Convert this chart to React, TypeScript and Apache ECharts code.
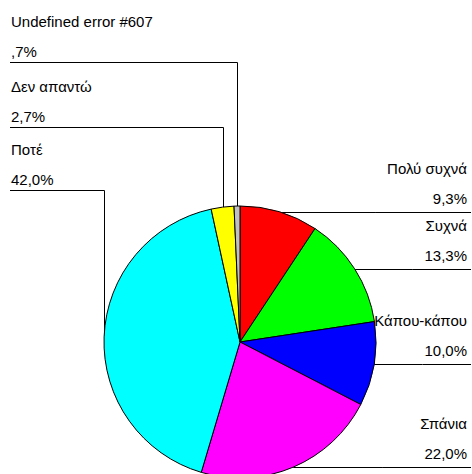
import React, { useEffect, useRef } from "react";
import * as echarts from "echarts";

const categories = [
  "Πολύ συχνά",
  "Συχνά",
  "Κάπου-κάπου",
  "Σπάνια",
  "Ποτέ",
  "Δεν απαντώ",
  "Undefined error #607",
];
const values = [9.3, 13.3, 10.0, 22.0, 42.0, 2.7, 0.7];
const colors = ["#ff0000", "#00ff00", "#0000ff", "#ff00ff", "#00ffff", "#ffff00", "#c0c0c0"];

// layout constants
const CX = 240;
const CY = 342;
const R = 136;
const leftLineY: Record<number, number> = { 4: 190.5, 5: 127.5, 6: 62.5 };

function fmt(v: number): string {
  let s = v.toFixed(1).replace(".", ",");
  if (s.startsWith("0,")) s = s.slice(1);
  return s + "%";
}

const total = values.reduce((a, b) => a + b, 0);
function edge(i: number): [number, number] {
  let cum = 0;
  for (let k = 0; k < i; k++) cum += values[k];
  const mid = cum + values[i] / 2;
  const theta = ((90 - (360 * mid) / total) * Math.PI) / 180;
  return [CX + R * Math.cos(theta), CY - R * Math.sin(theta)];
}

export default function App() {
  const ref = useRef<HTMLDivElement>(null);
  useEffect(() => {
    if (!ref.current) return;
    const chart = echarts.init(ref.current, null, { renderer: "svg" });
    chart.setOption({
      animation: false,
      backgroundColor: "#ffffff",
      series: [
        {
          type: "pie",
          center: [CX, CY],
          radius: R,
          startAngle: 90,
          clockwise: true,
          avoidLabelOverlap: false,
          silent: true,
          data: categories.map((name, i) => ({
            name,
            value: values[i],
            itemStyle: { color: colors[i] },
          })),
          itemStyle: { borderColor: "#000000", borderWidth: 1 },
          label: {
            show: true,
            position: "outside",
            formatter: (p: any) => `${p.name}\n${fmt(p.value)}`,
            color: "#000000",
            fontFamily: "Liberation Sans, Arial, sans-serif",
            fontSize: 15,
            lineHeight: 30,
          },
          labelLine: {
            show: true,
            length: 10,
            length2: 10,
            lineStyle: { color: "#000000", width: 1 },
          },
          labelLayout: (params: any) => {
            const i = params.dataIndex;
            const [ex, ey] = edge(i);
            if (leftLineY[i] !== undefined) {
              const ly = leftLineY[i];
              const vx = Math.round(ex) + 0.5;
              return {
                x: 11,
                y: ly + 4,
                align: "left",
                verticalAlign: "bottom",
                labelLinePoints: [
                  [vx, ey],
                  [vx, ly],
                  [10, ly],
                ],
              };
            }
            const ly = Math.round(ey) + 0.5;
            return {
              x: 467,
              y: ly + 1,
              align: "right",
              verticalAlign: "bottom",
              labelLinePoints: [
                [ex, ly],
                [(ex + 471) / 2, ly],
                [471, ly],
              ],
            };
          },
          emphasis: { disabled: true },
        },
      ],
    });
    return () => chart.dispose();
  }, []);
  return (
    <div
      ref={ref}
      style={{ position: "absolute", left: 0, top: 0, width: 472, height: 474 }}
    />
  );
}
